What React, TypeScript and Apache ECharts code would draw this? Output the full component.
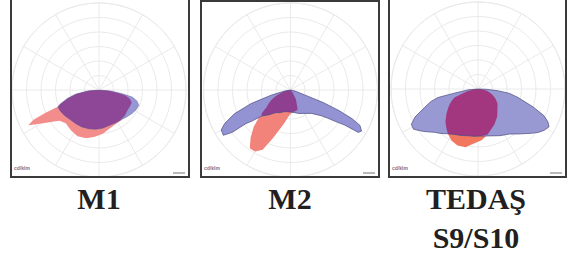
import React, { useEffect, useRef } from "react";
import * as echarts from "echarts";

// Panel titles
const panelTitles = ["M1", "M2", "TEDAŞ", "S9/S10"];

// Luminous intensity curves: gamma angle (deg, 0 = nadir, negative = left) and radius
const m1Gamma = [-90, -85, -80, -75, -70, -68, -67, -65.5, -63.5, -61, -58, -55, -52, -45, -35, -25, -15, -5, 5, 15, 25, 35, 45, 55, 62, 69, 74, 78, 81, 85, 90];
const m1Blue = [0, 12, 24, 33, 41.5, 44, 44.3, 44.3, 44.2, 44, 43.5, 43, 42.5, 41.3, 41, 40.7, 40.2, 39.5, 38.5, 37, 36.8, 37, 38.5, 40.7, 42, 42.7, 39.5, 34, 24, 13, 0];
const m1Red = [0, 10, 23, 32, 41, 44, 58, 72, 79, 70, 62, 55, 50, 47, 49, 51, 50, 47, 44, 40, 38, 37.5, 36.5, 35, 35, 35, 32, 27, 20, 10, 0];

const m2Gamma = [-90, -80, -75, -71, -67, -63, -60, -56, -54, -53, -51, -48, -45, -40, -35, -30, -25, -20, -15, -10, -5, 0, 10, 20, 30, 42, 50, 53, 55, 57, 58, 60, 63, 65, 67, 69, 71, 75, 80, 90];
const m2Blue = [0, 6, 20, 42, 61, 74, 80, 81, 72, 56, 49, 39, 36, 32, 28, 26, 25, 23.5, 22.5, 22, 22, 22, 23, 25, 27, 31.5, 40, 47, 55, 64, 80, 82, 78, 68, 53, 35, 15, 6, 2, 0];
const m2Red = [0, 4, 8, 12, 17, 21, 24, 28, 30, 32, 37, 44, 52, 62, 71, 71, 66, 51, 40, 33, 27, 24, 22, 21, 11, 3, 1, 0, 0, 0, 0, 0, 0, 0, 0, 0, 0, 0, 0, 0];

const s9Gamma = [-90, -85, -80, -78, -75, -70, -66, -62, -58, -52, -45, -40, -34, -27, -20, -12, -5, 4, 12, 25, 35, 42, 50, 54, 58, 62, 65, 68, 72, 78, 82, 85, 88, 90];
const s9Blue = [0, 10, 24, 41, 49, 58.5, 69, 75.5, 76, 69, 61.3, 58, 54, 51, 49.5, 47.8, 47.5, 47.2, 48, 51.5, 55, 60.5, 69, 74, 78, 80.5, 77, 71, 58, 41, 32, 20, 8, 0];
const s9Red = [0, 3, 8, 10, 15, 25, 28.5, 32, 35, 40, 46, 49.5, 54, 58, 60, 59.5, 55, 51.5, 46.5, 39, 33.5, 29, 25.5, 24, 21.5, 19.5, 17.5, 15.5, 13, 9.5, 6.5, 4.5, 2, 0];

const radiusTicks = [0, 14.5, 29, 43.5, 58, 72.5, 87];

const panelData = [
  { gamma: m1Gamma, red: m1Red, blue: m1Blue },
  { gamma: m2Gamma, red: m2Red, blue: m2Blue },
  { gamma: s9Gamma, red: s9Red, blue: s9Blue },
];

const panelLayout = [
  { cx: 99, cy: 90, box: { x: 11, y: -5, w: 178, h: 182 } },
  { cx: 290.5, cy: 90, box: { x: 201, y: 1, w: 178, h: 176 } },
  { cx: 478, cy: 89, box: { x: 389, y: -5, w: 177, h: 182 } },
];

const panelStyle = [
  { red: "#f38d8b", blue: "#9797d5", both: "#8e4796", outline: 0.35 },
  { red: "#f2837a", blue: "#9393d3", both: "#8f3f8f", outline: 0.7 },
  { red: "#f2775f", blue: "#9898d3", both: "#a2367f", outline: 0.7 },
];

const GRID = "#eaeaea";
const FONT = 'bold 30px "Liberation Serif", "DejaVu Serif", serif';

export default function App() {
  const ref = useRef<HTMLDivElement>(null);

  useEffect(() => {
    const chart = echarts.init(ref.current!, null, { renderer: "svg" });
    const rMax = radiusTicks[radiusTicks.length - 1];
    const rStep = radiusTicks[1] - radiusTicks[0];

    const polar = panelLayout.map((p) => ({ center: [p.cx, p.cy], radius: rMax }));
    const angleAxis = panelLayout.map((_, i) => ({
      polarIndex: i,
      type: "value",
      min: -180,
      max: 180,
      interval: 30,
      startAngle: 90,
      clockwise: false,
      axisLine: { show: true, lineStyle: { color: GRID, width: 1 } },
      axisTick: { show: false },
      axisLabel: { show: false },
      splitLine: { show: true, lineStyle: { color: GRID, width: 1 } },
    }));
    const radiusAxis = panelLayout.map((_, i) => ({
      polarIndex: i,
      type: "value",
      min: 0,
      max: rMax,
      interval: rStep,
      axisLine: { show: false },
      axisTick: { show: false },
      axisLabel: { show: false },
      splitLine: { show: true, lineStyle: { color: GRID, width: 1 } },
    }));

    const series: any[] = [];
    panelData.forEach((d, i) => {
      const st = panelStyle[i];
      const toData = (vals: number[]) => d.gamma.map((g, k) => [vals[k], g]);
      const both = d.gamma.map((_, k) => Math.min(d.red[k], d.blue[k]));
      const base = {
        type: "line",
        coordinateSystem: "polar",
        polarIndex: i,
        showSymbol: false,
        symbol: "none",
        silent: true,
        smooth: false,
      };
      series.push({ ...base, name: `red${i}`, data: toData(d.red), lineStyle: { width: 0, opacity: 0 }, areaStyle: { color: st.red, opacity: 1 } });
      series.push({ ...base, name: `blue${i}`, data: toData(d.blue), lineStyle: { width: 0, opacity: 0 }, areaStyle: { color: st.blue, opacity: 1 } });
      series.push({ ...base, name: `both${i}`, data: toData(both), lineStyle: { width: 0, opacity: 0 }, areaStyle: { color: st.both, opacity: 1 } });
      series.push({ ...base, name: `outline${i}`, data: toData(d.blue), lineStyle: { width: 1, color: "#4a4a80", opacity: st.outline } });
    });

    const graphic: any[] = [];
    panelLayout.forEach((p) => {
      graphic.push({
        type: "rect",
        z: 100,
        shape: { x: p.box.x, y: p.box.y, width: p.box.w, height: p.box.h },
        style: { fill: "none", stroke: "#3a3a3a", lineWidth: 2 },
      });
      graphic.push({
        type: "text",
        z: 100,
        x: p.box.x + 3,
        y: p.box.y + p.box.h - 9,
        style: { text: "cd/klm", font: "bold 5px sans-serif", fill: "#8a6a7e", textAlign: "left", textVerticalAlign: "middle" },
      });
      graphic.push({
        type: "rect",
        z: 100,
        shape: { x: p.box.x + p.box.w - 16, y: p.box.y + p.box.h - 5, width: 12, height: 2 },
        style: { fill: "#b8b8b8" },
      });
    });
    const titles = [
      { t: panelTitles[0], x: 99, y: 198 },
      { t: panelTitles[1], x: 290, y: 198 },
      { t: panelTitles[2], x: 476, y: 198 },
      { t: panelTitles[3], x: 476, y: 237 },
    ];
    titles.forEach((t) => {
      graphic.push({
        type: "text",
        z: 100,
        x: t.x,
        y: t.y,
        style: { text: t.t, font: FONT, fill: "#231f20", textAlign: "center", textVerticalAlign: "middle" },
      });
    });

    chart.setOption({
      animation: false,
      backgroundColor: "#ffffff",
      polar,
      angleAxis,
      radiusAxis,
      series,
      graphic,
    });
    return () => chart.dispose();
  }, []);

  return (
    <div
      ref={ref}
      style={{ position: "fixed", left: 0, top: 0, width: 585, height: 258 }}
    />
  );
}
